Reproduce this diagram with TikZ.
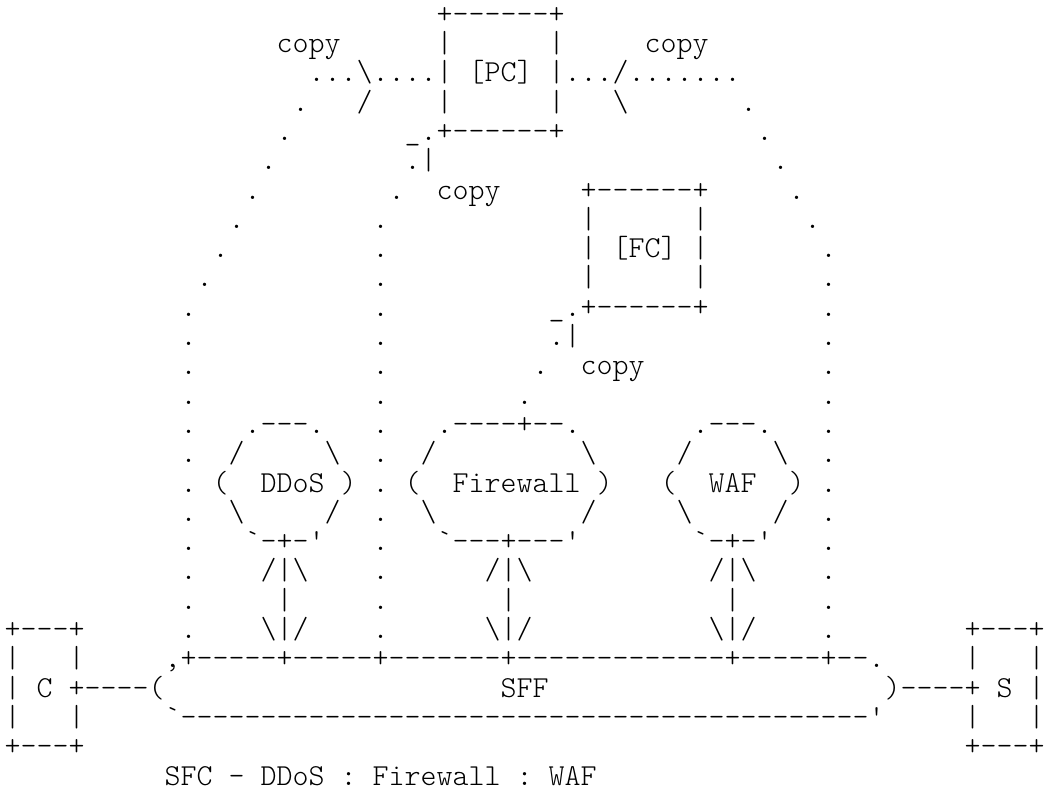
\documentclass[tikz,border=0pt]{standalone}
\usepackage{fontspec}
\usetikzlibrary{positioning}
\newfontfamily\asciifont{lmmonolt10-regular.otf}
\newlength\colw
\setlength\colw{16pt}
\newcommand\gap[1]{\hspace*{#1\colw}}
\newcommand\bs{\textbackslash}
\tikzstyle{asciirow} = [inner sep=0pt, anchor=base west,
    font=\asciifont\fontsize{30.476}{29.3}\selectfont]
\tikzset{nextrow/.style={below=of #1.base west, anchor=base west}}

\begin{document}
\begin{tikzpicture}[x=1pt, y=1pt, node distance=29.3pt]
    \useasboundingbox (0,0) rectangle (1045,-790);

    \node[asciirow] (r0) at (4.5,-23.2) {\gap{27}+------+};
    \node[asciirow, nextrow=r0] (r1) {\gap{17}copy\gap6|\gap6|\gap5copy};
    \node[asciirow, nextrow=r1] (r2) {\gap{19}...\bs....|\gap1[PC]\gap1|.../.......};
    \node[asciirow, nextrow=r2] (r3) {\gap{18}.\gap3/\gap4|\gap6|\gap3\bs\gap7.};
    \node[asciirow, nextrow=r3] (r4) {\gap{17}.\gap7\_.+------+\gap{12}.};
    \node[asciirow, nextrow=r4] (r5) {\gap{16}.\gap8.|\gap{21}.};
    \node[asciirow, nextrow=r5] (r6) {\gap{15}.\gap8.\gap2copy\gap5+------+\gap5.};
    \node[asciirow, nextrow=r6] (r7) {\gap{14}.\gap8.\gap{12}|\gap6|\gap6.};
    \node[asciirow, nextrow=r7] (r8) {\gap{13}.\gap9.\gap{12}|\gap1[FC]\gap1|\gap7.};
    \node[asciirow, nextrow=r8] (r9) {\gap{12}.\gap{10}.\gap{12}|\gap6|\gap7.};
    \node[asciirow, nextrow=r9] (r10) {\gap{11}.\gap{11}.\gap{10}\_.+------+\gap7.};
    \node[asciirow, nextrow=r10] (r11) {\gap{11}.\gap{11}.\gap{10}.|\gap{15}.};
    \node[asciirow, nextrow=r11] (r12) {\gap{11}.\gap{11}.\gap9.\gap2copy\gap{11}.};
    \node[asciirow, nextrow=r12] (r13) {\gap{11}.\gap{11}.\gap8.\gap{18}.};

    \node[asciirow, nextrow=r13] (r14) {\gap{11}.\gap3.---.\gap3.\gap3.----+--.\gap7.---.\gap3.};
    \node[asciirow, nextrow=r14] (r15) {\gap{11}.\gap2/\gap5\bs\gap2.\gap2/\gap9\bs\gap5/\gap5\bs\gap2.};
    \node[asciirow, nextrow=r15] (r16) {\gap{11}.\gap1(\gap2DDoS\gap1)\gap1.\gap1(\gap2Firewall\gap1)\gap3(\gap2WAF\gap2)\gap1.};
    \node[asciirow, nextrow=r16] (r17) {\gap{11}.\gap2\bs\gap5/\gap2.\gap2\bs\gap9/\gap5\bs\gap5/\gap2.};
    \node[asciirow, nextrow=r17] (r18) {\gap{11}.\gap3`-+-'\gap3.\gap3`---+---'\gap7`-+-'\gap3.};
    \node[asciirow, nextrow=r18] (r19) {\gap{11}.\gap4/|\bs\gap4.\gap6/|\bs\gap{11}/|\bs\gap4.};
    \node[asciirow, nextrow=r19] (r20) {\gap{11}.\gap5|\gap5.\gap7|\gap{13}|\gap5.};
    \node[asciirow, nextrow=r20] (r21) {+---+\gap6.\gap4\bs|/\gap4.\gap6\bs|/\gap{11}\bs|/\gap4.\gap8+---+};

    \node[asciirow, nextrow=r21] (r22) {|\gap3|\gap5,+-----+-----+-------+-------------+-----+--.\gap5|\gap3|};
    \node[asciirow, nextrow=r22] (r23) {|\gap1C\gap1+----(\gap{21}SFF\gap{21})----+\gap1S\gap1|};
    \node[asciirow, nextrow=r23] (r24) {|\gap3|\gap5`-------------------------------------------'\gap5|\gap3|};
    \node[asciirow, nextrow=r24] (r25) {+---+\gap{55}+---+};
    \node[asciirow, nextrow=r25] (r26) {\gap{10}SFC~-~DDoS~:~Firewall~:~WAF};
\end{tikzpicture}
\end{document}
